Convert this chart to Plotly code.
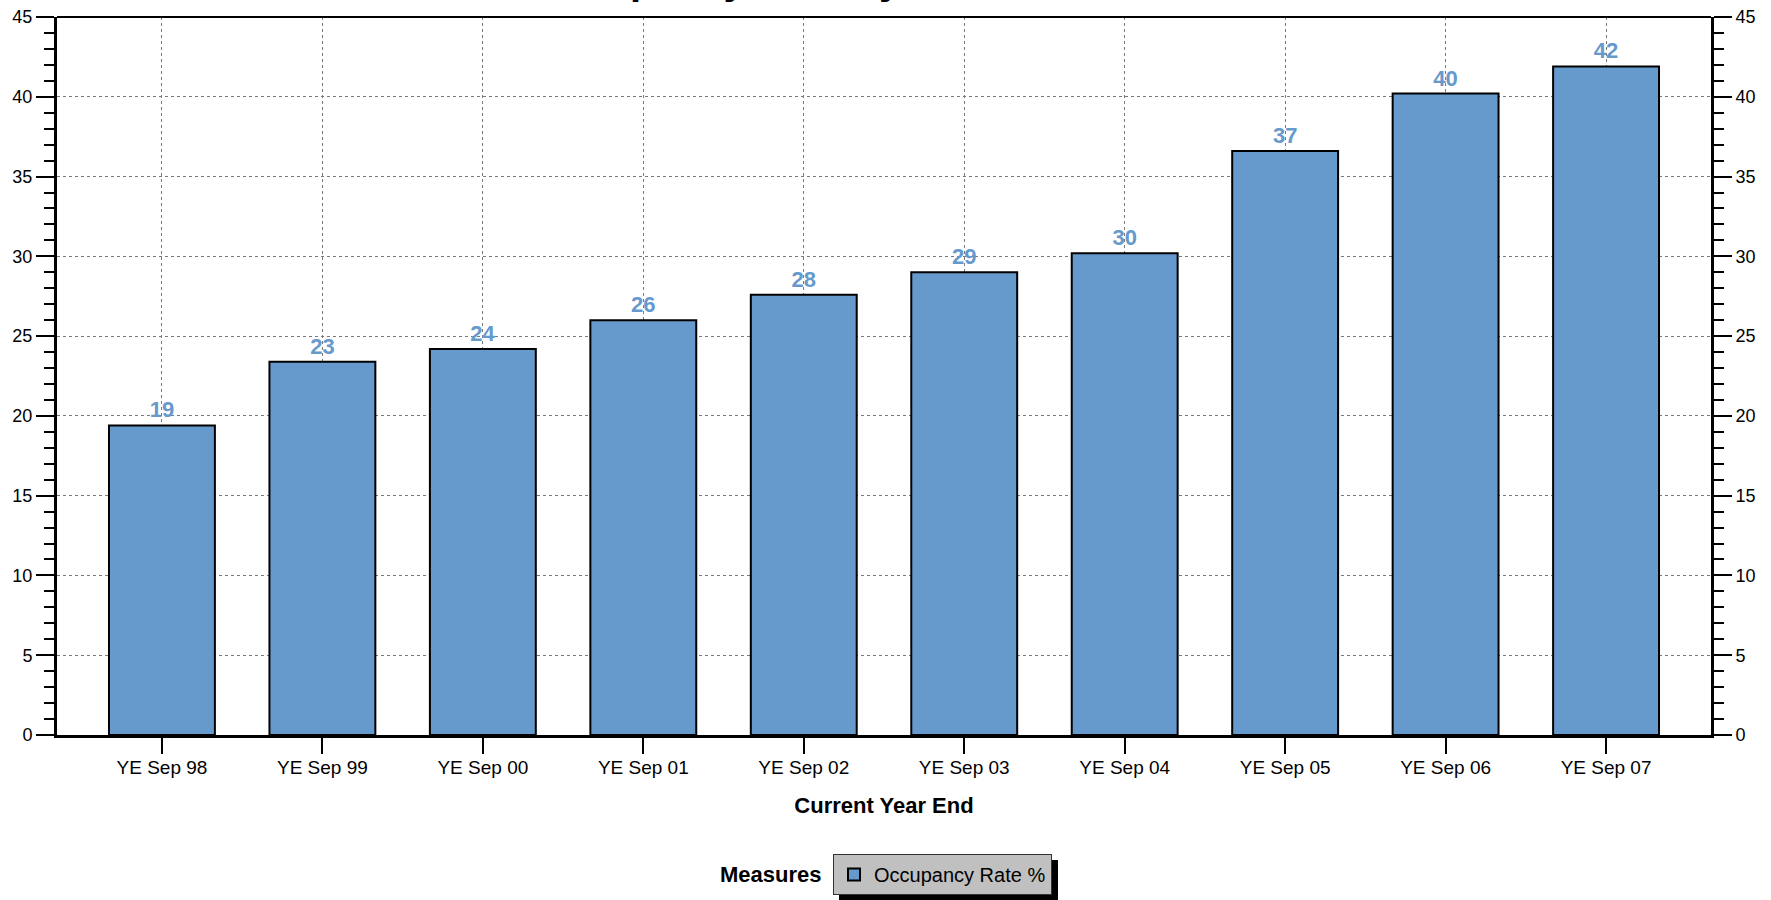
import plotly.graph_objects as go

categories = ["YE Sep 98", "YE Sep 99", "YE Sep 00", "YE Sep 01", "YE Sep 02",
              "YE Sep 03", "YE Sep 04", "YE Sep 05", "YE Sep 06", "YE Sep 07"]
occupancy_rate = [19.4, 23.4, 24.2, 26.0, 27.6, 29.0, 30.2, 36.6, 40.2, 41.9]
series_name = "Occupancy Rate %"
chart_title = "Occupancy Rate by Current Year End"
x_title = "Current Year End"
legend_title = "Measures"

BLUE = "#6699CC"
FONT = "Liberation Sans, Arial, sans-serif"
W, H = 1771, 900
L, R, T, B = 57, 60, 17, 165
pw = W - L - R
ph = H - T - B

def px_x(p):
    return (p - L) / pw

def px_y(p):
    return (H - B - p) / ph

fig = go.Figure()
fig.add_trace(go.Bar(
    x=categories, y=occupancy_rate, name=series_name,
    marker=dict(color=BLUE, line=dict(color="black", width=2)),
    width=0.66,
    texttemplate="%{y:.0f}", textposition="outside", cliponaxis=False,
    textfont=dict(family=FONT, size=22, color=BLUE, weight="bold"),
))
fig.add_trace(go.Scatter(
    x=categories, y=occupancy_rate, yaxis="y2", mode="lines",
    line=dict(width=0), opacity=0, showlegend=False, hoverinfo="skip",
))

yaxis_common = dict(
    range=[0, 45], dtick=5, tick0=0, automargin=False,
    ticks="outside", ticklen=18, tickwidth=2, tickcolor="black",
    showline=True, linewidth=3, linecolor="black",
    tickfont=dict(family=FONT, size=18, color="black"),
    minor=dict(dtick=1, ticks="outside", ticklen=10, tickwidth=2, tickcolor="black", showgrid=False),
    zeroline=False, fixedrange=True,
)

fig.update_layout(
    template="none",
    width=W, height=H,
    margin=dict(l=L, r=R, t=T, b=B, pad=0, autoexpand=False),
    paper_bgcolor="white", plot_bgcolor="white",
    font=dict(family=FONT, color="black"),
    bargap=0.34,
    xaxis=dict(
        type="category", range=[-0.654, 9.654], automargin=False,
        ticks="outside", ticklen=16, tickwidth=2, tickcolor="black",
        ticklabelstandoff=-3,
        showline=True, linewidth=3, linecolor="black",
        showgrid=True, gridcolor="#7a7a7a", gridwidth=1, griddash="dot",
        tickfont=dict(family=FONT, size=19, color="black"),
        title=dict(text=x_title, standoff=21,
                   font=dict(family=FONT, size=22, color="black", weight="bold")),
    ),
    yaxis=dict(**yaxis_common, side="left",
               showgrid=True, gridcolor="#7a7a7a", gridwidth=1, griddash="dot"),
    yaxis2=dict(**yaxis_common, side="right", overlaying="y", showgrid=False),
    showlegend=True,
    legend=dict(
        x=px_x(833), y=px_y(854), xanchor="left", yanchor="top",
        orientation="h", bgcolor="#C0C0C0", bordercolor="#333333", borderwidth=1,
        font=dict(family=FONT, size=20, color="black"),
        itemwidth=30,
    ),
    shapes=[
        dict(type="line", xref="paper", yref="paper", x0=0, x1=1, y0=1, y1=1,
             line=dict(color="black", width=2)),
        dict(type="rect", xref="paper", yref="paper",
             x0=px_x(839), x1=px_x(1058), y0=px_y(860), y1=px_y(900),
             fillcolor="black", line=dict(width=0), layer="above"),
    ],
    annotations=[
        dict(text=legend_title, xref="paper", yref="paper",
             x=px_x(824), y=px_y(874), xanchor="right", yanchor="middle",
             showarrow=False, font=dict(family=FONT, size=22, color="black", weight="bold")),
        dict(text=chart_title, xref="paper", yref="paper",
             x=0.5, y=1, xanchor="center", yanchor="bottom", yshift=13,
             showarrow=False, font=dict(family=FONT, size=40, color="black", weight="bold")),
    ],
)

fig.write_html("out.html")
